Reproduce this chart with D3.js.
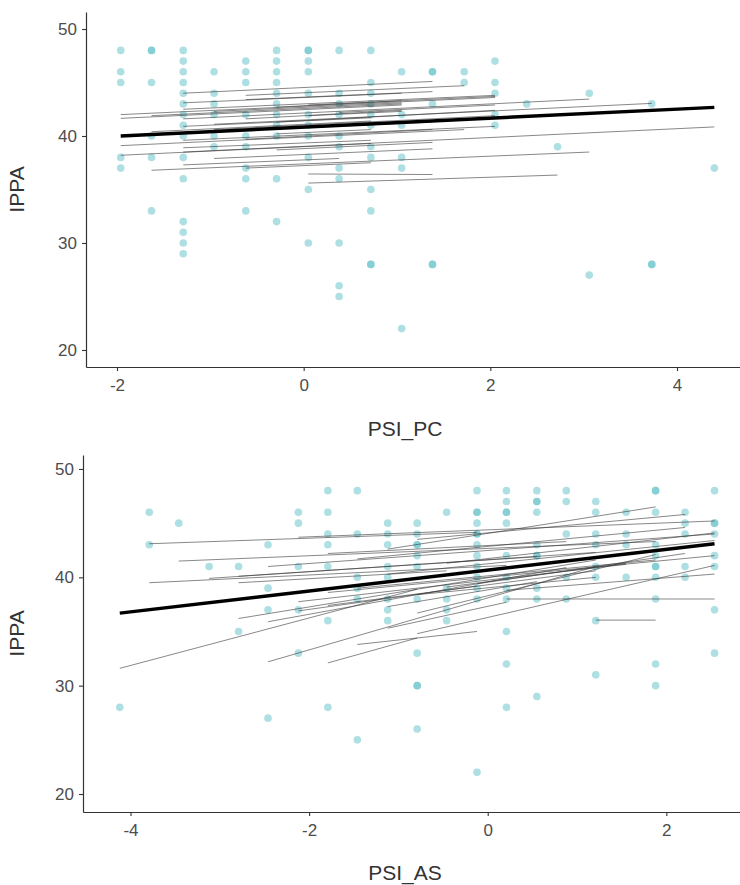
<!DOCTYPE html>
<html>
<head>
<meta charset="utf-8">
<script src="https://cdn.jsdelivr.net/npm/d3@7"></script>
<style>
  body { margin: 0; background: #fff; }
  svg { display: block; font-family: "Liberation Sans", Arial, sans-serif; }
</style>
</head>
<body>
<svg id="chart" width="740" height="885"></svg>
<script>
// ---- top panel: IPPA vs PSI_PC ----
const pcLevels = [-1.96, -1.63, -1.29, -0.96, -0.62, -0.29, 0.05, 0.38, 0.72, 1.05,
                  1.38, 1.72, 2.05, 2.39, 2.72, 3.06, 3.39, 3.73, 4.06, 4.40];
// IPPA values observed at each PSI_PC level (same order as pcLevels)
const pcIPPA = [
  [48, 46, 45, 38, 37],
  [48, 48, 45, 40, 38, 33],
  [48, 47, 46, 45, 44, 43, 42, 41, 40, 38, 36, 32, 31, 30, 29],
  [46, 44, 43, 42, 40, 39],
  [47, 46, 45, 42, 40, 39, 37, 36, 33],
  [48, 47, 46, 45, 44, 43, 42, 41, 40, 36, 32],
  [48, 48, 47, 46, 44, 42, 41, 40, 38, 35, 30],
  [48, 44, 43, 42, 40, 39, 37, 36, 30, 26, 25],
  [48, 45, 44, 43, 42, 41, 39, 38, 35, 33, 28, 28],
  [46, 42, 41, 38, 37, 22],
  [46, 46, 43, 28, 28],
  [46, 45],
  [47, 45, 44, 42, 41],
  [43],
  [39],
  [44, 27],
  [],
  [43, 28, 28],
  [],
  [37]
];
// per-subject fitted lines: [x start, x end, y start, y end]
const pcLines = [
  [-1.29, 1.38, 44.0, 45.1], [-0.62, 1.38, 43.4, 44.15], [-1.29, 2.05, 42.5, 43.8],
  [-1.29, 3.06, 41.6, 43.45], [-0.96, 3.73, 41.1, 43.05], [-1.29, 4.40, 38.5, 40.85],
  [-1.63, 3.06, 36.8, 38.5], [0.05, 1.38, 36.45, 36.4], [0.05, 2.72, 35.6, 36.35],
  [-1.96, 2.05, 42.0, 43.6], [-1.96, 1.05, 41.65, 42.9], [-1.96, 1.72, 39.1, 40.6],
  [-1.96, 0.72, 38.2, 39.3], [-1.63, 1.05, 41.9, 43.0], [-1.29, 1.05, 43.1, 44.0],
  [-1.29, 0.72, 40.9, 41.7], [-1.29, 1.38, 40.3, 41.3], [-1.29, 2.05, 39.6, 40.9],
  [-1.29, 0.72, 38.9, 39.6], [-0.96, 1.05, 42.3, 43.1], [-0.96, 2.05, 40.6, 41.9],
  [-0.62, 1.05, 41.6, 42.4], [-0.62, 1.72, 43.8, 44.7], [-0.62, 1.38, 39.7, 40.6],
  [-0.29, 1.05, 42.7, 43.3], [-0.29, 2.05, 41.3, 42.4], [-0.29, 0.72, 40.2, 40.6],
  [-0.29, 1.38, 38.7, 39.4], [0.05, 1.05, 41.9, 42.3], [0.05, 2.05, 42.9, 43.7],
  [-1.63, 0.72, 40.4, 41.4], [-0.96, 1.38, 37.9, 38.8], [-1.29, 0.38, 37.3, 37.9],
  [0.38, 1.38, 41.0, 41.4], [0.38, 2.05, 42.2, 42.9], [-0.62, 0.72, 37.0, 37.5]
];
const pcFixed = [-1.96, 4.40, 40.0, 42.68];

// ---- bottom panel: IPPA vs PSI_AS ----
const asLevels = [-4.12, -3.79, -3.46, -3.12, -2.79, -2.46, -2.12, -1.79, -1.46, -1.12,
                  -0.79, -0.46, -0.12, 0.21, 0.55, 0.88, 1.21, 1.55, 1.88, 2.21, 2.54];
const asIPPA = [
  [28],
  [46, 43],
  [45],
  [41],
  [41, 35],
  [43, 39, 37, 27],
  [46, 45, 41, 37, 33],
  [48, 46, 44, 43, 41, 36, 28],
  [48, 44, 40, 39, 38, 25],
  [45, 44, 43, 41, 40, 38, 37, 36],
  [45, 44, 43, 43, 42, 41, 38, 33, 30, 30, 26],
  [46, 39, 38, 37, 36],
  [48, 46, 46, 45, 44, 44, 43, 42, 41, 40, 39, 38, 22],
  [48, 47, 46, 46, 45, 42, 40, 39, 38, 35, 32, 28],
  [48, 47, 47, 46, 43, 42, 42, 39, 38, 29],
  [48, 47, 44, 40, 38],
  [47, 46, 44, 43, 41, 40, 36, 31],
  [46, 44, 43, 40],
  [48, 48, 46, 43, 42, 41, 41, 40, 38, 32, 30],
  [46, 45, 44, 41, 40],
  [48, 45, 45, 44, 42, 41, 37, 33]
];
const asLines = [
  [-3.79, -0.12, 43.1, 44.15], [-2.12, 2.54, 43.7, 45.2], [-3.46, 1.88, 41.5, 43.3],
  [-2.46, 2.54, 41.0, 44.0], [-3.79, 0.21, 39.5, 41.1], [-3.12, 1.21, 39.9, 42.3],
  [-2.79, 0.55, 40.1, 41.9], [-2.79, 1.21, 36.2, 41.6], [-2.46, 0.88, 35.9, 40.9],
  [-4.12, -0.79, 31.6, 38.9], [-2.46, 1.21, 32.2, 41.0], [-1.79, -0.79, 32.1, 34.4],
  [-1.46, -0.12, 33.8, 35.0], [-2.12, 1.55, 37.75, 41.2], [-1.12, 1.88, 42.6, 46.5],
  [-0.79, 2.21, 43.5, 45.8], [0.21, 2.54, 38.0, 38.0], [1.21, 1.88, 36.05, 36.05],
  [-0.79, 1.88, 36.7, 42.1], [-0.79, 2.54, 34.8, 41.1], [-1.79, 2.54, 38.6, 42.0],
  [-1.46, 1.88, 39.0, 41.6], [-1.12, 2.54, 40.3, 43.4], [-1.79, 0.88, 42.2, 43.3],
  [-1.46, 2.21, 41.7, 44.6], [-0.46, 2.54, 41.3, 44.1], [-1.12, 0.55, 37.3, 39.6],
  [-2.12, -0.12, 36.9, 39.2], [-1.79, 1.21, 37.4, 40.6], [-0.46, 1.55, 39.1, 41.3],
  [-2.79, -0.46, 39.5, 40.6], [-0.12, 2.21, 39.4, 42.2], [-1.12, 0.21, 35.3, 37.7],
  [-0.79, 1.21, 38.4, 40.0], [0.21, 2.54, 38.8, 40.3]
];
const asFixed = [-4.12, 2.54, 36.7, 43.1];

const yTicks = [20, 30, 40, 50];
const pcTicks = [-2, 0, 2, 4];
const asTicks = [-4, -2, 0, 2];

const svg = d3.select('#chart');

function panel(opt) {
  const x = d3.scaleLinear().domain(opt.xDomain).range(opt.xRange);
  const y = d3.scaleLinear().domain(opt.yDomain).range(opt.yRange);
  const g = svg.append('g');

  const pts = [];
  opt.levels.forEach((lv, i) => opt.values[i].forEach(v => pts.push([lv, v])));

  g.selectAll('circle')
    .data(pts)
    .enter().append('circle')
    .attr('cx', d => x(d[0]))
    .attr('cy', d => y(d[1]))
    .attr('r', 3.8)
    .attr('fill', '#5ec0c8')
    .attr('fill-opacity', 0.5);

  g.selectAll('line.subj')
    .data(opt.lines)
    .enter().append('line')
    .attr('class', 'subj')
    .attr('x1', d => x(d[0])).attr('x2', d => x(d[1]))
    .attr('y1', d => y(d[2])).attr('y2', d => y(d[3]))
    .attr('stroke', '#333')
    .attr('stroke-opacity', 0.65)
    .attr('stroke-width', 0.9);

  const f = opt.fixed;
  g.append('line')
    .attr('x1', x(f[0])).attr('x2', x(f[1]))
    .attr('y1', y(f[2])).attr('y2', y(f[3]))
    .attr('stroke', '#000')
    .attr('stroke-width', 3.4);

  const fmt = d => String(d); // plain hyphen minus, as in the original
  const ax = g.append('g')
    .attr('transform', `translate(0,${opt.yRange[0]})`)
    .call(d3.axisBottom(x).tickValues(opt.xTicks).tickFormat(fmt)
      .tickSize(4).tickSizeOuter(0).tickPadding(opt.xPad));
  const ay = g.append('g')
    .attr('transform', `translate(${opt.xRange[0]},0)`)
    .call(d3.axisLeft(y).tickValues(yTicks).tickFormat(fmt)
      .tickSize(4).tickSizeOuter(0).tickPadding(5));

  [ax, ay].forEach(a => {
    a.select('.domain').attr('stroke', '#333').attr('stroke-width', 1.2);
    a.selectAll('.tick line').attr('stroke', '#333').attr('stroke-width', 1.1);
    a.selectAll('.tick text').attr('fill', '#4d4d4d')
      .style('font-size', '17px').style('font-family', '"Liberation Sans", Arial, sans-serif');
  });

  g.append('text')
    .attr('x', 405).attr('y', opt.xTitleY)
    .attr('text-anchor', 'middle')
    .attr('fill', '#333').style('font-size', '21px')
    .text(opt.xTitle);

  const cy = (opt.yRange[0] + opt.yRange[1]) / 2;
  g.append('text')
    .attr('transform', `translate(24,${cy}) rotate(-90)`)
    .attr('text-anchor', 'middle')
    .attr('fill', '#333').style('font-size', '21px')
    .text('IPPA');
}

panel({
  levels: pcLevels, values: pcIPPA, lines: pcLines, fixed: pcFixed,
  xDomain: [-2.332, 4.675], xRange: [86, 740],
  yDomain: [18.41, 51.59], yRange: [367, 12],
  xTicks: pcTicks, xTitle: 'PSI_PC', xTitleY: 436, xPad: 8
});

panel({
  levels: asLevels, values: asIPPA, lines: asLines, fixed: asFixed,
  xDomain: [-4.532, 2.825], xRange: [83, 740],
  yDomain: [18.34, 51.29], yRange: [812, 455],
  xTicks: asTicks, xTitle: 'PSI_AS', xTitleY: 880, xPad: 8
});
</script>
</body>
</html>
